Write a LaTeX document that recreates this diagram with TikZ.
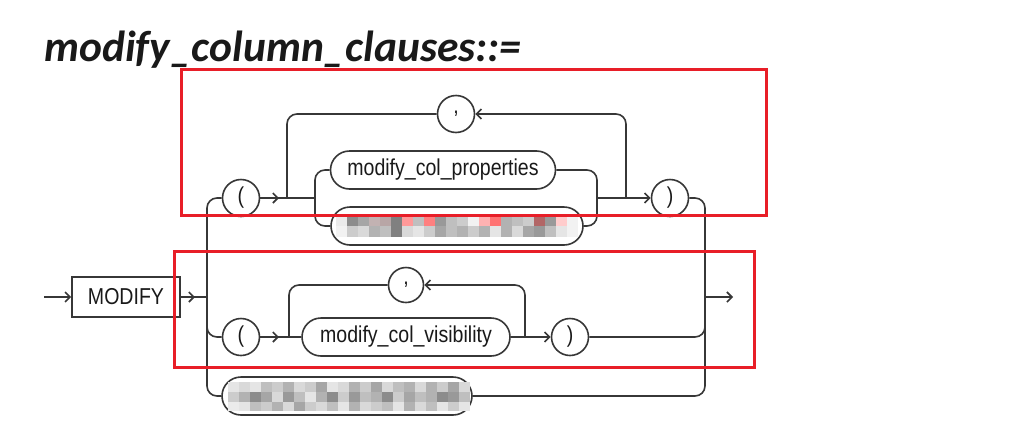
\documentclass[tikz,border=0pt]{standalone}
\usepackage{fontspec}
\setmainfont{Liberation Sans}
\newfontfamily\titlefont{Carlito}
\newfontfamily\rrfont[FakeStretch=0.85]{Liberation Sans}
\usetikzlibrary{arrows.meta,calc}
\definecolor{lc}{RGB}{55,55,55}
\definecolor{redc}{RGB}{232,30,40}
\definecolor{tc}{RGB}{25,25,25}
\begin{document}
\begin{tikzpicture}[x=1pt,y=-1pt,
  line/.style={draw=lc, line width=1.6pt, rounded corners=10pt},
  arr/.style={-{Straight Barb[length=5pt,width=10pt,line width=1.6pt]}},
  term/.style={draw=lc, line width=1.6pt, circle, minimum size=37pt, inner sep=0pt, text=tc, font=\rrfont\fontsize{23}{23}\selectfont},
  nterm/.style={draw=lc, line width=1.6pt, rounded corners=19pt, minimum height=38pt, inner sep=0pt, text=tc, font=\rrfont\fontsize{23}{23}\selectfont},
  kw/.style={draw=lc, line width=1.6pt, rectangle, minimum width=108pt, minimum height=40pt, inner sep=0pt, text=tc, font=\rrfont\fontsize{23}{23}\selectfont},
  redbox/.style={draw=redc, line width=3pt},
  pix/.style={draw=none}
]
\fill[white] (0,0) rectangle (1019,426);
\useasboundingbox (0,0) rectangle (1019,426);

% title
\node[anchor=base west, inner sep=0pt, text=tc, font=\titlefont\bfseries\itshape\fontsize{43.5}{43.5}\selectfont] (title) at (44,61) {modify\_column\_clauses::=};

% main line
\coordinate (start) at (44,297);
\node[kw] (mod) at (126,297) {MODIFY};
\coordinate (jl) at (207,297);
\coordinate (jr) at (705,297);
\coordinate (end) at (733,297);
\draw[line,arr] (start) -- (mod.west);
\draw[line] (mod.east) -- (jl);
\draw[line,arr] (mod.east) -- (195,297);
\draw[line,arr] (jr) -- (end);

% top branch
\node[term] (lp1) at (241,198) {(};
\node[term] (cm1) at (456,114) {,};
\node[nterm, minimum width=225pt] (mcp) at (443,170) {modify\_col\_properties};
\node[nterm, minimum width=252pt] (bl1) at (457,226) {};
\node[term] (rp1) at (670,198) {)};
\coordinate (a1) at (287,198);
\coordinate (c1l) at (315,198);
\coordinate (c1r) at (597,198);
\coordinate (a1r) at (626,198);
\draw[line] (jl) |- (lp1.west);
\draw[line] (lp1.east) -- (c1l);
\draw[line,arr] (lp1.east) -- (279,198);
\draw[line] (cm1.west) -| (a1);
\draw[line,arr] (a1r) |- (cm1.east);
\draw[line] (c1l) |- (mcp.west);
\draw[line] (c1l) |- (bl1.west);
\draw[line] (mcp.east) -| (c1r);
\draw[line] (bl1.east) -| (c1r);
\draw[line,arr] (c1r) -- (rp1.west);
\draw[line] (rp1.east) -| (jr);

% middle branch
\node[term] (lp2) at (241,337) {(};
\node[nterm, minimum width=208pt] (mcv) at (406,337) {modify\_col\_visibility};
\node[term, minimum size=35pt] (cm2) at (406,285) {,};
\node[term] (rp2) at (570,337) {)};
\coordinate (a2) at (289,337);
\coordinate (a2r) at (525,337);
\draw[line] (jl) |- (lp2.west);
\draw[line] (lp2.east) -- (mcv.west);
\draw[line,arr] (lp2.east) -- (279,337);
\draw[line] (cm2.west) -| (a2);
\draw[line,arr] (a2r) |- (cm2.east);
\draw[line,arr] (mcv.east) -- (rp2.west);
\draw[line] (rp2.east) -| (jr);

% bottom branch
\node[nterm, minimum width=250pt] (bl2) at (347,396) {};
\draw[line] (jl) |- (bl2.west);
\draw[line] (bl2.east) -| (jr);

% pixelated (obscured) content
\foreach \i/\ca/\cb in {0/black!8/black!5, 1/black!45/black!20, 2/black!35/black!15, 3/red!20!black!30/black!30, 4/red!20!black!35/black!25, 5/black!50/black!50, 6/red!40!white/black!15, 7/black!25/black!10, 8/red!50!white/black!20, 9/black!40/black!35, 10/black!25/black!25, 11/black!20/black!30, 12/black!5/black!20, 13/red!30!white/black!30, 14/red!55!white/black!10, 15/black!30/black!30, 16/black!25/black!15, 17/black!20/black!35, 18/red!50!black!60/black!40, 19/black!40/black!25, 20/red!20!white/black!10, 21/black!5/black!5}
  {\fill[\ca] (336+11*\i,215) rectangle ++(11,11);
   \fill[\cb] (336+11*\i,226) rectangle ++(11,11);}
\foreach \i/\ca/\cb/\cc in {0/black!10/black!20/black!8, 1/black!15/black!30/black!10, 2/black!10/black!45/black!25, 3/black!25/black!35/black!20, 4/black!20/black!15/black!30, 5/black!30/black!40/black!15, 6/black!15/black!25/black!35, 7/black!20/black!10/black!20, 8/black!35/black!30/black!15, 9/black!10/black!45/black!25, 10/black!15/black!20/black!10, 11/black!30/black!40/black!30, 12/black!20/black!25/black!15, 13/black!35/black!30/black!20, 14/black!15/black!45/black!25, 15/black!25/black!20/black!10, 16/black!30/black!35/black!30, 17/black!15/black!25/black!15, 18/black!30/black!30/black!25, 19/black!20/black!45/black!10, 20/black!35/black!40/black!20, 21/black!15/black!25/black!10}
  {\fill[\ca] (228+11*\i,382) rectangle ++(11,10);
   \fill[\cb] (228+11*\i,392) rectangle ++(11,10);
   \fill[\cc] (228+11*\i,402) rectangle ++(11,9);}

% red highlight boxes
\draw[redbox] (181,69) rectangle (766,215);
\draw[redbox] (174,251) rectangle (754,367);
\end{tikzpicture}
\end{document}
